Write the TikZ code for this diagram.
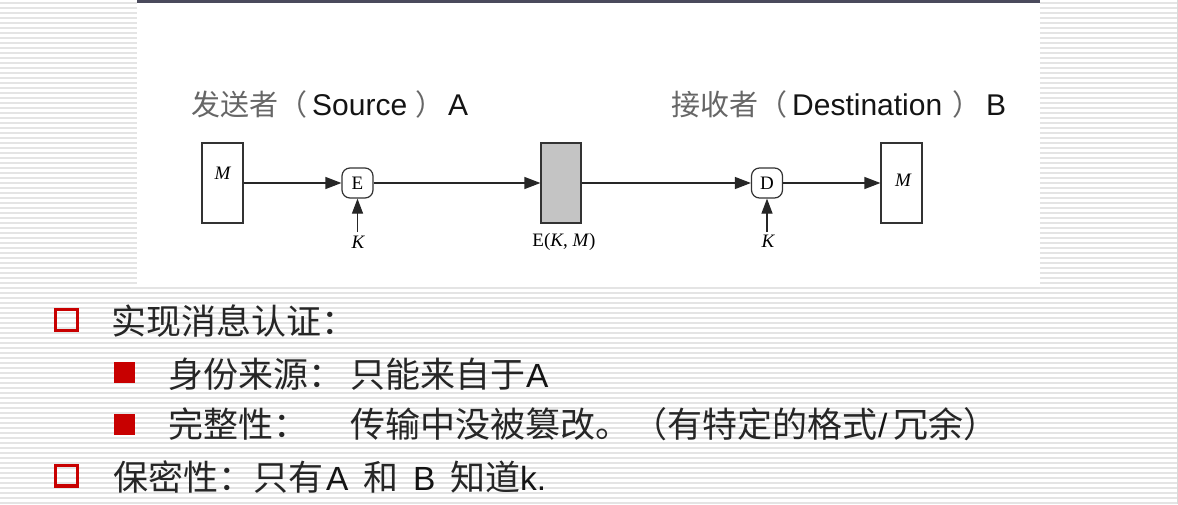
\documentclass[tikz,border=0pt]{standalone}
\usepackage{fontspec}
\setmainfont{Liberation Sans}
\newfontfamily\cjk{Noto Sans CJK SC}
\newfontfamily\tms{Liberation Serif}
\usetikzlibrary{arrows.meta}
\definecolor{bulletred}{HTML}{C80000}
\definecolor{stripe}{HTML}{E4E4E4}
\definecolor{barcol}{HTML}{4A4A5C}
\definecolor{boxgray}{HTML}{C4C4C4}
\tikzset{
  msgbox/.style={draw=black!80, line width=1.2pt, minimum width=41pt, minimum height=80pt, inner sep=0pt},
  opbox/.style={draw=black!80, line width=1.2pt, rounded corners=8pt, minimum width=31pt, minimum height=30pt, inner sep=0pt, font=\tms\fontsize{19}{19}\selectfont},
  flow/.style={line width=1.2pt, draw=black!85, -{Triangle[length=16pt,width=12pt]}},
  keyarrow/.style={line width=1.2pt, draw=black!85, -{Triangle[length=15pt,width=11pt]}},
  serif/.style={font=\tms\fontsize{19}{19}\selectfont, inner sep=0pt},
  tcjk/.style={font=\cjk\fontsize{29}{29}\selectfont, text=black!60, inner sep=0pt, anchor=base west},
  tlat/.style={font=\fontsize{30}{30}\selectfont, text=black!92, inner sep=0pt, anchor=base west},
  bcjk/.style={font=\cjk\fontsize{35}{35}\selectfont, text=black!85, inner sep=0pt, anchor=base west},
  blat/.style={font=\fontsize{33.5}{33.5}\selectfont, text=black!92, inner sep=0pt, anchor=base west},
  hollowbullet/.style={draw=bulletred, line width=3.3pt, minimum width=21.7pt, minimum height=20.7pt, inner sep=0pt},
  solidbullet/.style={fill=bulletred, minimum width=21pt, minimum height=21pt, inner sep=0pt}
}
\begin{document}
\begin{tikzpicture}[x=1pt,y=-1pt]
\useasboundingbox (0,0) rectangle (1178,504);
% striped background
\fill[white] (0,0) rectangle (1178,504);
\foreach \yy in {2.5,7.5,...,504} {\draw[stripe, line width=2pt] (0,\yy) -- (1178,\yy);}
% white panel with top bar
\fill[white] (137,0) rectangle (1040,285);
\fill[barcol] (137,0) rectangle (1040,3);
\draw[black!15, line width=1pt] (1177,0) -- (1177,504);

% titles
\node[tcjk] (tA1) at (191,115) {发送者（};
\node[tlat] (tA2) at (312,115) {Source};
\node[tcjk] (tA3) at (415,115) {）};
\node[tlat] (tA4) at (448,115) {A};
\node[tcjk] (tB1) at (671,115) {接收者（};
\node[tlat] (tB2) at (792,115) {Destination};
\node[tcjk] (tB3) at (952,115) {）};
\node[tlat] (tB4) at (986,115) {B};

% diagram nodes
\node[msgbox] (m1) at (222.5,183) {};
\node[serif] (m1l) at (222.5,173) {\itshape M};
\node[opbox] (E) at (357.5,183) {E};
\node[msgbox, fill=boxgray, minimum width=40pt] (c) at (561,183) {};
\node[opbox] (D) at (767,183) {D};
\node[msgbox] (m2) at (901.5,183) {};
\node[serif] (m2l) at (903,180) {\itshape M};

\coordinate (k1) at (357.5,232);
\coordinate (k2) at (767,232);
\node[serif, anchor=north] (k1l) at (358,236) {\itshape K};
\node[serif, anchor=north] (k2l) at (768,235) {\itshape K};
\node[serif, anchor=north] (cl) at (564,233) {E(\textit{K}, \textit{M})};

% connectors
\draw[flow] (m1.east) -- (E.west);
\draw[flow] (E.east) -- (c.west);
\draw[flow] (c.east) -- (D.west);
\draw[flow] (D.east) -- (m2.west);
\draw[keyarrow] (k1) -- (E.south);
\draw[keyarrow] (k2) -- (D.south);

% bullets
\node[hollowbullet] (b1) at (66.5,320) {};
\node[solidbullet] (b2) at (124.5,372.5) {};
\node[solidbullet] (b3) at (124.5,424.5) {};
\node[hollowbullet] (b4) at (66.5,475.7) {};

% bullet texts
\node[bcjk] (l1) at (111,334) {实现消息认证：};
\node[bcjk] (l2a) at (168,387) {身份来源：};
\node[bcjk] (l2b) at (350,387) {只能来自于};
\node[blat] (l2c) at (526,387) {A};
\node[bcjk] (l3a) at (168,437) {完整性：};
\node[bcjk] (l3b) at (350,437) {传输中没被篡改。};
\node[bcjk] (l3c) at (632,437) {（有特定的格式};
\node[blat] (l3d) at (878,437) {/};
\node[bcjk] (l3e) at (893,437) {冗余）};
\node[bcjk] (l4a) at (113,490) {保密性：只有};
\node[blat] (l4b) at (326,490) {A};
\node[bcjk] (l4c) at (363,490) {和};
\node[blat] (l4d) at (413,490) {B};
\node[bcjk] (l4e) at (450,490) {知道};
\node[blat] (l4f) at (520,490) {k.};
\end{tikzpicture}
\end{document}
